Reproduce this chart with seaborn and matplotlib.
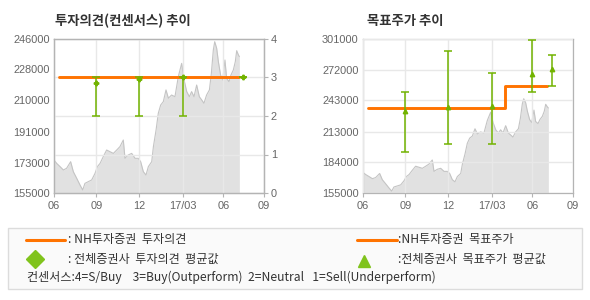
import matplotlib
matplotlib.use("Agg")
import matplotlib.pyplot as plt
import seaborn as sns
import pandas as pd
from matplotlib.lines import Line2D
from matplotlib.patches import Rectangle

# ---------------- data ----------------
# x position in months since 2016-06 (axis units)
MONTH_POS = [0.00, 0.19, 0.43, 0.67, 0.90, 1.19, 1.38, 1.62, 1.86, 2.05, 2.21, 2.45, 2.69,
             2.93, 3.10, 3.29, 3.52, 3.76, 4.00, 4.24, 4.48, 4.71, 4.95, 5.07, 5.31, 5.55,
             5.79, 6.02, 6.19, 6.38, 6.57, 6.74, 6.98, 7.10, 7.29, 7.45, 7.62, 7.81, 8.00,
             8.17, 8.40, 8.64, 8.88, 9.12, 9.29, 9.48, 9.67, 9.83, 10.00, 10.19, 10.38,
             10.55, 10.71, 10.90, 11.10, 11.24, 11.38, 11.48, 11.62, 11.74, 11.90, 12.05,
             12.21, 12.33, 12.50, 12.64, 12.81, 12.95, 13.05, 13.17, 13.24]
PRICE = [174500, 172500, 170600, 168600, 169600, 173500, 167600, 163700, 159700, 156800,
         160700, 161700, 162700, 166600, 170600, 172500, 176500, 180400, 179400, 178400,
         180400, 182400, 186300, 175500, 177500, 178400, 175500, 175500, 173500, 167600,
         165600, 170600, 173500, 182400, 192200, 202100, 207000, 209000, 215900, 211000,
         212900, 211900, 223800, 231600, 221800, 214900, 211900, 214900, 211900, 218800,
         211900, 210000, 208000, 212900, 215900, 225700, 239500, 244400, 240500, 232600,
         224700, 221800, 233600, 222800, 220800, 224700, 227700, 232600, 239100, 236600,
         235600]

XTICK_POS = [0, 3.02, 6.1, 9.19, 12.1, 15]
XTICK_LABELS = ["06", "09", "12", "17/03", "06", "09"]

# investment opinion (consensus)
NH_OPINION_X = [0.36, 13.2]
NH_OPINION = [3, 3]
CONS_X = [3.02, 6.1, 9.19, 13.52]
CONS_MEAN = [2.87, 2.95, 3.0, 3.0]
CONS_MIN = [2, 2, 2, 3]
CONS_MAX = [3, 3, 3, 3]

# target price
NH_TP_X = [0.38, 10.14, 13.17]
NH_TP = [236000, 256000, 256000]
TP_X = [3.02, 6.1, 9.19, 12.1, 13.52]
TP_MEAN = [233000, 236500, 237200, 267800, 272600]
TP_MIN = [193500, 201000, 201000, 250400, 256100]
TP_MAX = [250400, 290000, 268400, 299700, 285500]

LEFT_YTICKS = [155000, 173000, 191000, 210000, 228000, 246000]
RIGHT_YTICKS = [155000, 184000, 213000, 243000, 272000, 301000]
RATING_TICKS = [0, 1, 2, 3, 4]

TITLE_LEFT = "투자의견(컨센서스) 추이"
TITLE_RIGHT = "목표주가 추이"

# ---------------- style ----------------
sns.set_style("white")
plt.rcParams['font.family'] = ['Noto Sans CJK KR', 'DejaVu Sans']

ORANGE = "#ff7300"
GREEN = "#72b300"
LGREEN = "#80c31c"
FILL = "#e1e1e1"
PLINE = "#c4c4c4"
GRID = "#e8e8e8"
SPINE = "#b4b4b4"
TICKC = "#666666"
TXT = "#333333"

W, H = 590, 300
fig = plt.figure(figsize=(W / 100, H / 100), dpi=100)
fig.patch.set_facecolor("white")


def fr(x0, y0, x1, y1):
    return [x0 / W, 1 - y1 / H, (x1 - x0) / W, (y1 - y0) / H]


price_df = pd.DataFrame({"m": MONTH_POS, "price": PRICE})


def style_axes(ax, ylim, yticks):
    ax.set_xlim(XTICK_POS[0], XTICK_POS[-1])
    ax.set_ylim(*ylim)
    ax.set_xticks(XTICK_POS)
    ax.set_xticklabels(XTICK_LABELS)
    ax.set_yticks(yticks)
    ax.set_yticklabels([str(v) for v in yticks])
    for lab in ax.get_xticklabels() + ax.get_yticklabels():
        lab.set_fontfamily("Liberation Sans")
        lab.set_fontsize(7.9)
        lab.set_color(TICKC)
    for s in ax.spines.values():
        s.set_color(SPINE)
        s.set_linewidth(0.9)
        s.set_visible(True)
    ax.tick_params(axis="x", which="both", bottom=True, length=3, width=0.8,
                   color=SPINE, pad=3)
    ax.tick_params(axis="y", left=True, length=0, pad=3)
    ax.set_xlabel("")
    ax.set_ylabel("")


# ---------------- left chart ----------------
ax1 = fig.add_axes(fr(54, 39, 264, 193))
ax1.fill_between(price_df["m"], price_df["price"], LEFT_YTICKS[0], color=FILL,
                 linewidth=0, zorder=1)
sns.lineplot(data=price_df, x="m", y="price", ax=ax1, color=PLINE, linewidth=0.8,
             zorder=1.5)
style_axes(ax1, (LEFT_YTICKS[0], LEFT_YTICKS[-1]), LEFT_YTICKS)
ax1.set_axisbelow(False)
ax1.grid(axis="x", color=GRID, linewidth=1.0, zorder=2)
ax1.grid(axis="y", visible=False)

ax2 = ax1.twinx()
ax2.set_ylim(0, 4)
ax2.set_yticks(RATING_TICKS)
ax2.set_yticklabels([str(v) for v in RATING_TICKS])
for lab in ax2.get_yticklabels():
    lab.set_fontfamily("Liberation Sans")
    lab.set_fontsize(7.9)
    lab.set_color(TICKC)
ax2.tick_params(axis="y", right=True, length=3, width=0.8, color=SPINE, pad=2)
ax2.grid(axis="y", color=GRID, linewidth=1.0)
for s in ax2.spines.values():
    s.set_color(SPINE)
    s.set_linewidth(0.9)
sns.lineplot(x=NH_OPINION_X, y=NH_OPINION, ax=ax2, color=ORANGE, linewidth=2.1,
             zorder=3)
ax2.errorbar(CONS_X, CONS_MEAN,
             yerr=[[m - lo for m, lo in zip(CONS_MEAN, CONS_MIN)],
                   [hi - m for m, hi in zip(CONS_MEAN, CONS_MAX)]],
             fmt="P", color=GREEN, ecolor=GREEN, markersize=3.2, elinewidth=1.1,
             capsize=3.2, capthick=1.1, zorder=4)
ax2.set_ylabel("")

# ---------------- right chart ----------------
ax3 = fig.add_axes(fr(363, 39, 573, 193))
ax3.fill_between(price_df["m"], price_df["price"], RIGHT_YTICKS[0], color=FILL,
                 linewidth=0, zorder=1)
sns.lineplot(data=price_df, x="m", y="price", ax=ax3, color=PLINE, linewidth=0.8,
             zorder=1.5)
style_axes(ax3, (RIGHT_YTICKS[0], RIGHT_YTICKS[-1]), RIGHT_YTICKS)
ax3.set_axisbelow(False)
ax3.grid(axis="both", color=GRID, linewidth=1.0, zorder=2)
sns.lineplot(x=NH_TP_X, y=NH_TP, ax=ax3, color=ORANGE, linewidth=2.1,
             drawstyle="steps-post", zorder=3)
ax3.errorbar(TP_X, TP_MEAN,
             yerr=[[m - lo for m, lo in zip(TP_MEAN, TP_MIN)],
                   [hi - m for m, hi in zip(TP_MEAN, TP_MAX)]],
             fmt="^", color=GREEN, ecolor=GREEN, markersize=3.2, elinewidth=1.1,
             capsize=3.2, capthick=1.1, zorder=4)
ax3.set_xlabel("")
ax3.set_ylabel("")

# titles
fig.text(55 / W, 1 - 21 / H, TITLE_LEFT, fontsize=9.6, fontweight="bold", color=TXT,
         va="center", ha="left")
fig.text(367 / W, 1 - 21 / H, TITLE_RIGHT, fontsize=9.6, fontweight="bold", color=TXT,
         va="center", ha="left")

# ---------------- legend box ----------------
box = Rectangle((8 / W, 1 - 289 / H), 574 / W, 61 / H, transform=fig.transFigure,
                facecolor="#fafafa", edgecolor="#dcdcdc", linewidth=1.0)
fig.patches.append(box)


def P(x, y):
    return x / W, 1 - y / H


lfont = dict(fontsize=8.7, color=TXT, va="center", ha="left",
             family=['Noto Sans CJK KR', 'DejaVu Sans'])
(x0, y0), (x1, _) = P(26, 240), P(65, 240)
fig.lines.append(Line2D([x0, x1], [y0, y0], transform=fig.transFigure, color=ORANGE,
                        linewidth=2.2))
fig.text(*P(68, 240), ": NH투자증권  투자의견", **lfont)
fig.lines.append(Line2D([P(35, 259)[0]], [P(35, 259)[1]], transform=fig.transFigure,
                        marker="D", markersize=9.5, color=LGREEN, linestyle="none"))
fig.text(*P(68, 259), ": 전체증권사  투자의견  평균값", **lfont)
fig.text(*P(27, 277), "컨센서스:4=S/Buy    3=Buy(Outperform)  2=Neutral   1=Sell(Underperform)",
         **lfont)

(x0, y0), (x1, _) = P(357, 240), P(397, 240)
fig.lines.append(Line2D([x0, x1], [y0, y0], transform=fig.transFigure, color=ORANGE,
                        linewidth=2.2))
fig.text(*P(398, 240), ":NH투자증권  목표주가", **lfont)
fig.lines.append(Line2D([P(364, 261)[0]], [P(364, 261)[1]], transform=fig.transFigure,
                        marker="^", markersize=8.5, color=LGREEN, linestyle="none"))
fig.text(*P(398, 259), ":전체증권사  목표주가  평균값", **lfont)

fig.savefig("out.png", dpi=100, facecolor="white")
